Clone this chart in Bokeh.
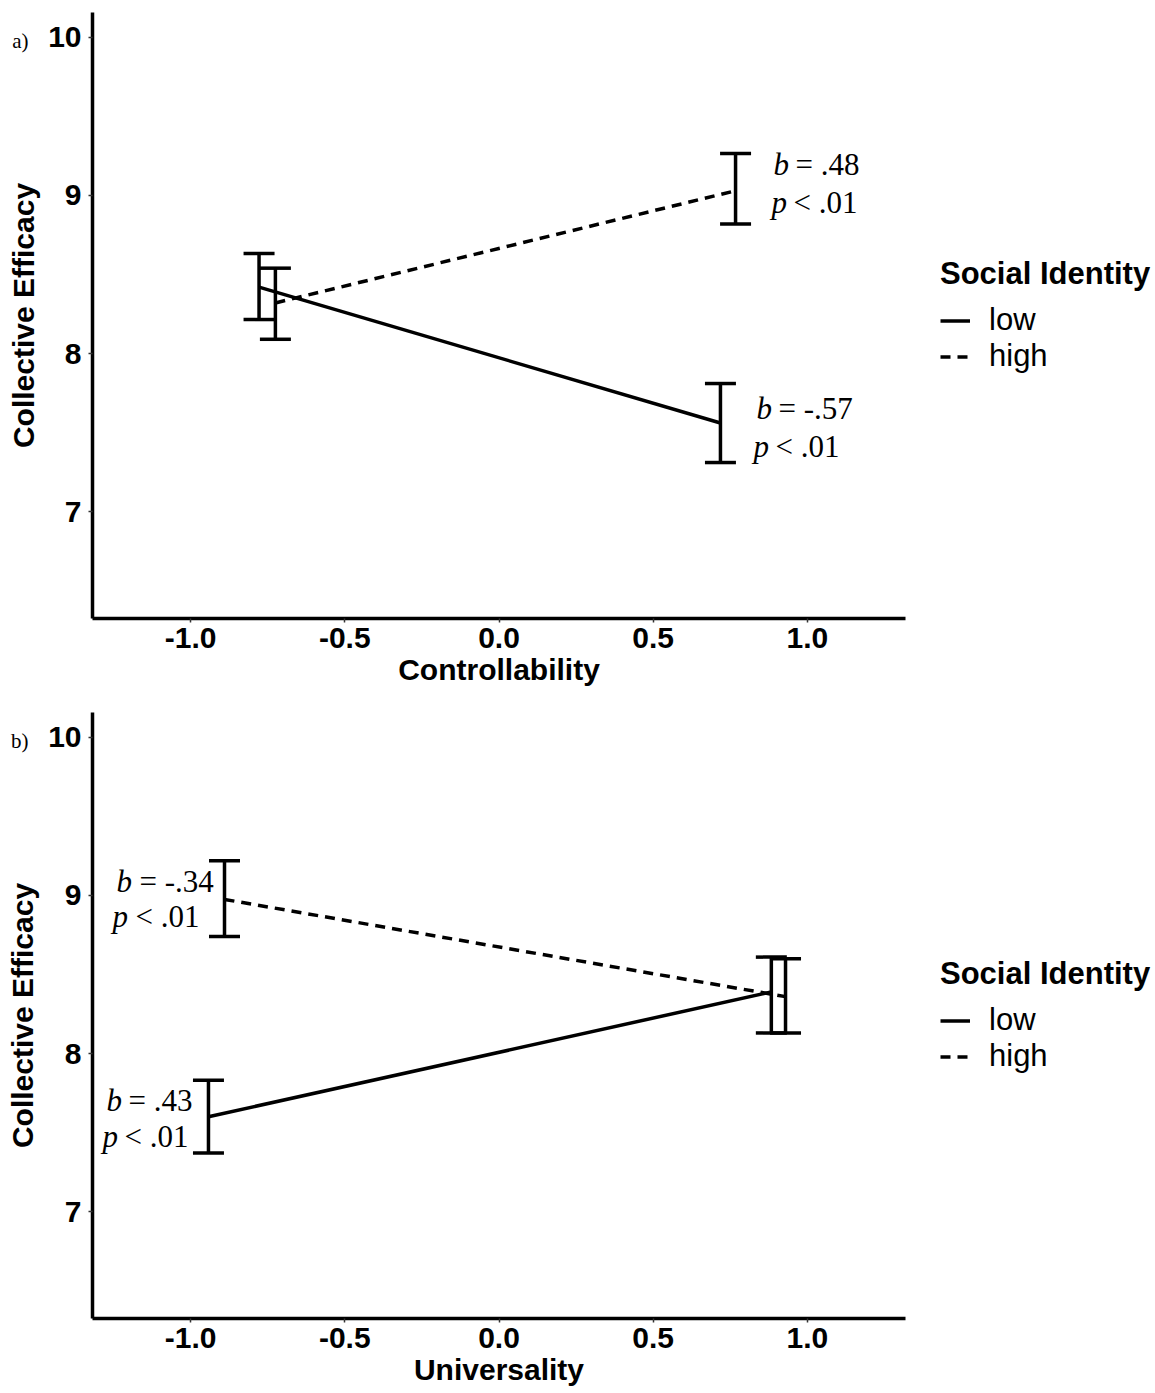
from bokeh.plotting import figure
from bokeh.models import (Range1d, Label, Legend, LegendItem, FixedTicker,
                          NumeralTickFormatter, LinearAxis, CustomJSTickFormatter)
from bokeh.layouts import column
from bokeh.embed import file_html
from bokeh.resources import INLINE

# ---------------- data ----------------
# Panel a: Controllability x Social Identity
ctrl_low_x = [-0.778, 0.718]
ctrl_low_y = [8.42, 7.56]
ctrl_low_lower = [8.215, 7.31]
ctrl_low_upper = [8.633, 7.81]
ctrl_high_x = [-0.725, 0.767]
ctrl_high_y = [8.32, 9.03]
ctrl_high_lower = [8.09, 8.82]
ctrl_high_upper = [8.54, 9.266]
ctrl_high_stats = ["= .48", "< .01"]
ctrl_low_stats = ["= -.57", "< .01"]

# Panel b: Universality x Social Identity
univ_low_x = [-0.942, 0.883]
univ_low_y = [7.60, 8.39]
univ_low_lower = [7.37, 8.13]
univ_low_upper = [7.83, 8.61]
univ_high_x = [-0.89, 0.929]
univ_high_y = [8.975, 8.36]
univ_high_lower = [8.74, 8.13]
univ_high_upper = [9.22, 8.60]
univ_high_stats = ["= -.34", "< .01"]
univ_low_stats = ["= .43", "< .01"]

x_ticks = [-1.0, -0.5, 0.0, 0.5, 1.0]
y_ticks = [7, 8, 9, 10]
x_range = (-1.318, 1.318)
y_range = (6.323, 10.158)
legend_title = "Social Identity"
group_labels = ["low", "high"]
y_label = "Collective Efficacy"

SANS = "Liberation Sans"
SERIF = "Liberation Serif"
PX_PER_X = 308.5
CAP = 15.5 / PX_PER_X
DASH = "10 7"


def style_text_axis(ax):
    ax.axis_label_text_font = SANS
    ax.axis_label_text_font_style = "bold"
    ax.axis_label_text_font_size = "30px"
    ax.axis_label_text_color = "black"


def make_panel(tag, xlabel, low, high, annots, height, bottom):
    p = figure(width=1155, height=height, output_backend="svg",
               toolbar_location=None,
               x_range=Range1d(*x_range), y_range=Range1d(*y_range),
               frame_width=813, frame_height=606,
               min_border_left=92, min_border_right=250,
               min_border_top=12, min_border_bottom=bottom)
    p.outline_line_color = None
    p.grid.visible = False
    p.background_fill_color = "white"
    p.border_fill_color = "white"

    for ax in (p.xaxis[0], p.yaxis[0]):
        ax.axis_line_color = "black"
        ax.axis_line_width = 3.5
        ax.major_tick_line_color = "#333333"
        ax.major_tick_line_width = 1.5
        ax.major_tick_out = 4
        ax.major_tick_in = 0
        ax.minor_tick_line_color = None
        ax.major_label_text_font = SANS
        ax.major_label_text_font_style = "bold"
        ax.major_label_text_font_size = "30px"
        ax.major_label_text_color = "black"
        style_text_axis(ax)

    p.xaxis.ticker = FixedTicker(ticks=x_ticks)
    p.xaxis.formatter = NumeralTickFormatter(format="0.0")
    p.yaxis.ticker = FixedTicker(ticks=y_ticks)
    p.xaxis.axis_label = xlabel
    p.xaxis.major_label_standoff = 5
    p.xaxis.axis_label_standoff = 2
    p.yaxis.major_label_standoff = 7

    # outer left axis: carries the panel tag and the y-axis title
    tag_axis = LinearAxis(ticker=FixedTicker(ticks=[9.98]),
                          formatter=CustomJSTickFormatter(args=dict(tag=tag), code="return tag"),
                          axis_line_color=None, major_tick_line_color=None,
                          major_tick_out=0, major_tick_in=0,
                          minor_tick_line_color=None,
                          major_label_text_font=SERIF,
                          major_label_text_font_size="21px",
                          major_label_text_color="black",
                          major_label_standoff=17,
                          axis_label=y_label, axis_label_standoff=-31)
    style_text_axis(tag_axis)
    p.add_layout(tag_axis, "left")

    renderers = []
    for (xs, ys, lo, hi), dash in ((low, "solid"), (high, DASH)):
        r = p.line(xs, ys, line_color="black", line_width=3.5, line_dash=dash)
        renderers.append(r)
        p.segment(x0=xs, y0=lo, x1=xs, y1=hi, line_color="black", line_width=3.5)
        p.segment(x0=[x - CAP for x in xs], y0=lo, x1=[x + CAP for x in xs], y1=lo,
                  line_color="black", line_width=3.5)
        p.segment(x0=[x - CAP for x in xs], y0=hi, x1=[x + CAP for x in xs], y1=hi,
                  line_color="black", line_width=3.5)

    legend = Legend(items=[LegendItem(label=group_labels[0], renderers=[renderers[0]]),
                           LegendItem(label=group_labels[1], renderers=[renderers[1]])],
                    title=legend_title, location="center_left",
                    orientation="vertical")
    legend.border_line_color = None
    legend.background_fill_alpha = 0
    legend.title_text_font = SANS
    legend.title_text_font_style = "bold"
    legend.title_text_font_size = "31px"
    legend.title_text_color = "black"
    legend.title_standoff = 10
    legend.label_text_font = SANS
    legend.label_text_font_size = "31px"
    legend.label_text_color = "black"
    legend.glyph_width = 30
    legend.glyph_height = 33
    legend.label_height = 33
    legend.spacing = 0
    legend.label_standoff = 19
    legend.padding = 5
    legend.margin = 35
    p.add_layout(legend, "right")

    # statistics annotations
    for (x, y, stats, b_dx, p_dx, b_dy, p_dy, rest_gap) in annots:
        for letter, dx, dy, rest in (("b", b_dx, b_dy, stats[0]), ("p", p_dx, p_dy, stats[1])):
            p.add_layout(Label(x=x, y=y, x_offset=dx, y_offset=dy, text=letter,
                               text_font=SERIF, text_font_style="italic",
                               text_font_size="31px", text_baseline="alphabetic",
                               text_align="left", text_color="black"))
            p.add_layout(Label(x=x, y=y, x_offset=dx + rest_gap, y_offset=dy, text=rest,
                               text_font=SERIF, text_font_size="31px",
                               text_baseline="alphabetic", text_align="left",
                               text_color="black"))
    return p


pa = make_panel("a)", "Controllability",
                (ctrl_low_x, ctrl_low_y, ctrl_low_lower, ctrl_low_upper),
                (ctrl_high_x, ctrl_high_y, ctrl_high_lower, ctrl_high_upper),
                [(ctrl_high_x[1], ctrl_high_y[1], ctrl_high_stats, 38, 36, 26, -12, 22),
                 (ctrl_low_x[1], ctrl_low_y[1], ctrl_low_stats, 36, 33, 15, -23, 22)],
                700, 82)
pb = make_panel("b)", "Universality",
                (univ_low_x, univ_low_y, univ_low_lower, univ_low_upper),
                (univ_high_x, univ_high_y, univ_high_lower, univ_high_upper),
                [(univ_high_x[0], univ_high_y[0], univ_high_stats, -108, -112, 18, -17, 23),
                 (univ_low_x[0], univ_low_y[0], univ_low_stats, -102, -106, 16, -20, 22)],
                693, 75)

layout = column(pa, pb, spacing=0)
open("out.html", "w").write(file_html(layout, INLINE))
